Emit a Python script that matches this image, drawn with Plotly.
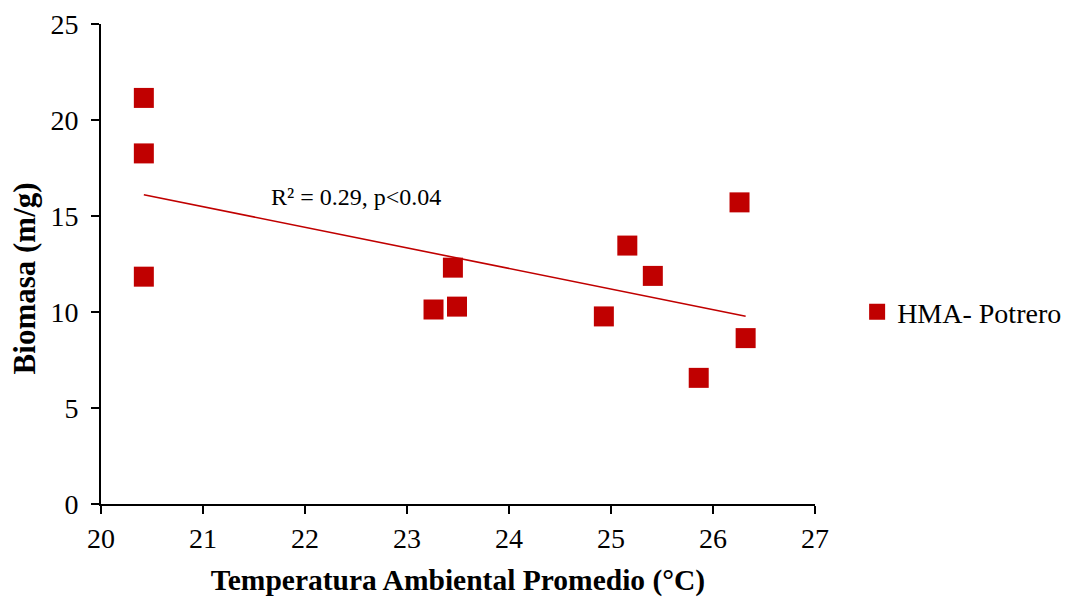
import numpy as np
import plotly.graph_objects as go

temp = [20.42, 20.42, 20.42, 23.45, 23.26, 23.49, 24.93, 25.16, 25.41, 25.86, 26.26, 26.32]
biomasa = [21.15, 18.26, 11.84, 12.31, 10.13, 10.28, 9.77, 13.46, 11.88, 6.57, 15.71, 8.64]
series_name = "HMA- Potrero"
annotation_text = "R² = 0.29, p<0.04"
x_title = "Temperatura Ambiental Promedio (°C)"
y_title = "Biomasa (m/g)"
x_ticks = [20, 21, 22, 23, 24, 25, 26, 27]
y_ticks = [0, 5, 10, 15, 20, 25]

color = "#C00000"
font_family = "Liberation Serif"

slope, intercept = np.polyfit(temp, biomasa, 1)
x_fit = [min(temp), max(temp)]
y_fit = [slope * v + intercept for v in x_fit]

fig = go.Figure()
fig.add_trace(go.Scatter(
    x=temp, y=biomasa, mode="markers", name=series_name, showlegend=False,
    marker=dict(symbol="square", size=20, color=color),
))
# legend entry
fig.add_trace(go.Scatter(
    x=[None], y=[None], mode="markers", name=series_name,
    marker=dict(symbol="square", size=17, color=color),
))
fig.add_trace(go.Scatter(
    x=x_fit, y=y_fit, mode="lines", showlegend=False,
    line=dict(color=color, width=1.6),
))

fig.add_annotation(
    x=22.5, y=16.0, text=annotation_text, showarrow=False,
    font=dict(family=font_family, size=24, color="black"),
)
fig.add_annotation(
    x=0, xref="paper", y=0.47, yref="paper", xanchor="center", yanchor="middle",
    xshift=-77, text="<b>" + y_title + "</b>", textangle=-90, showarrow=False,
    font=dict(family=font_family, size=31, color="black"),
)

fig.update_layout(
    width=1071, height=600,
    margin=dict(l=93, r=264, t=16, b=104),
    paper_bgcolor="white", plot_bgcolor="white",
    font=dict(family=font_family, color="black"),
    legend=dict(x=1.059, y=0.40, xanchor="left", yanchor="middle",
                font=dict(size=28, family=font_family), itemsizing="trace"),
    xaxis=dict(
        range=[20, 27], tickvals=x_ticks, showgrid=False, zeroline=False,
        showline=True, linecolor="black", linewidth=2, automargin=False,
        ticks="outside", ticklen=8, tickwidth=2, tickcolor="black",
        ticklabeloverflow="allow",
        tickfont=dict(size=28, family=font_family),
        title=dict(text="<b>" + x_title + "</b>",
                   font=dict(size=29.5, family=font_family), standoff=17),
    ),
    yaxis=dict(
        range=[0, 25], tickvals=y_ticks, showgrid=False, zeroline=False,
        showline=True, linecolor="black", linewidth=2, automargin=False,
        ticks="outside", ticklen=8, tickwidth=2, tickcolor="black",
        ticklabelstandoff=7, ticklabeloverflow="allow",
        tickfont=dict(size=28, family=font_family),
    ),
)

fig.write_html("out.html")
